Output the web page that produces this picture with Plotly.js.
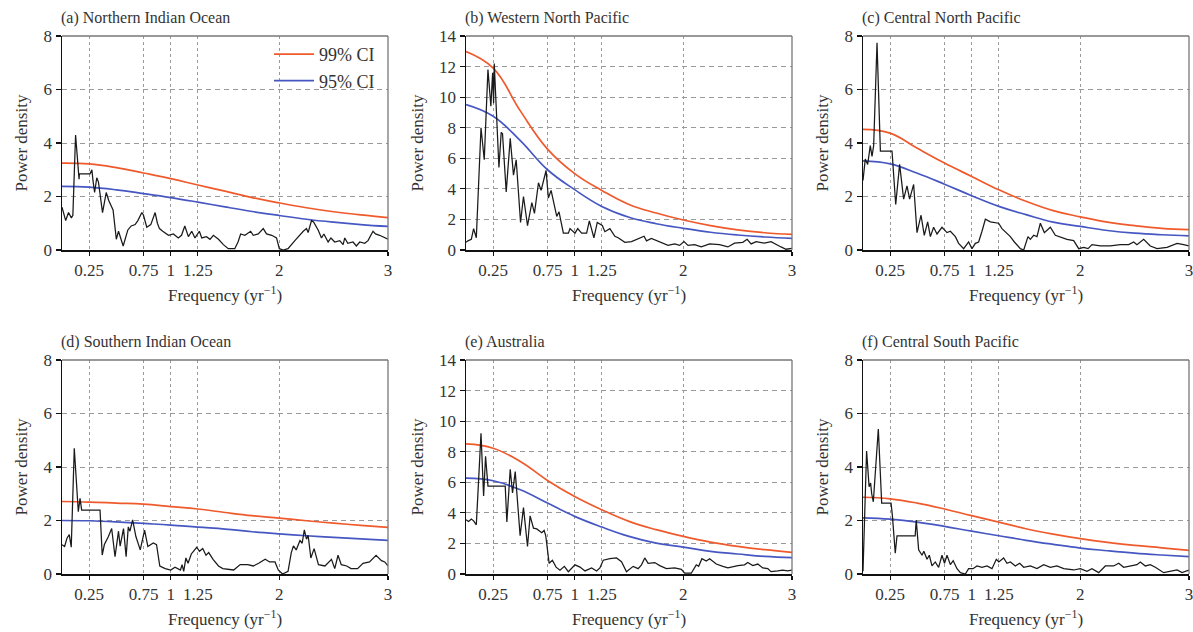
<!DOCTYPE html>
<html>
<head>
<meta charset="utf-8">
<script src="https://cdn.plot.ly/plotly-3.0.1.min.js"></script>
<style>html,body{margin:0;padding:0;background:#fff;}#chart{width:1193px;height:632px;}</style>
</head>
<body>
<div id="chart"></div>
<script>
// ---- data ----
const panelTitles = ["(a) Northern Indian Ocean", "(b) Western North Pacific", "(c) Central North Pacific",
                     "(d) Southern Indian Ocean", "(e) Australia", "(f) Central South Pacific"];
const xTickVals = [0.25, 0.75, 1, 1.25, 2, 3];
const xTickText = ["0.25", "0.75", "1", "1.25", "2", "3"];
const ciFreq = [0, 0.25, 0.5, 0.75, 1, 1.25, 1.5, 1.75, 2, 2.25, 2.5, 2.75, 3];

const freqA = [0,0.034,0.06,0.086,0.1,0.125,0.157,0.16,0.258,0.275,0.285,0.3,0.32,0.335,0.373,0.407,0.43,0.453,0.47,0.5,0.52,0.563,0.606,0.637,0.673,0.698,0.735,0.75,0.78,0.817,0.857,0.878,0.897,0.927,0.98,1.025,1.07,1.1,1.13,1.163,1.194,1.224,1.264,1.286,1.33,1.362,1.393,1.44,1.485,1.53,1.59,1.62,1.644,1.683,1.736,1.76,1.806,1.852,1.882,1.93,1.974,2.0,2.035,2.08,2.11,2.143,2.22,2.25,2.265,2.296,2.315,2.357,2.388,2.41,2.449,2.475,2.51,2.556,2.587,2.602,2.63,2.678,2.709,2.74,2.785,2.816,2.862,2.885,2.923,2.97,3.0];
const powerA = [1.6,1.1,1.4,1.2,1.3,4.3,2.65,2.85,2.85,3.0,2.6,2.15,2.7,2.55,1.4,2.15,1.85,1.65,1.5,0.4,0.7,0.15,0.75,0.9,0.95,1.1,1.4,1.3,0.85,0.95,1.4,1.0,0.8,0.7,0.55,0.6,0.45,0.55,0.9,0.5,0.7,0.45,0.7,0.45,0.5,0.4,0.55,0.4,0.2,0.05,0.05,0.3,0.6,0.55,0.7,0.55,0.6,0.8,0.6,0.55,0.45,0.05,0.0,0.05,0.2,0.35,0.7,0.8,0.65,1.1,1.05,0.75,0.45,0.6,0.3,0.45,0.3,0.35,0.2,0.45,0.25,0.3,0.15,0.3,0.25,0.35,0.7,0.6,0.55,0.45,0.4];
const ci99A = [3.25,3.22,3.08,2.88,2.67,2.43,2.2,1.96,1.76,1.58,1.43,1.31,1.21];
const ci95A = [2.38,2.35,2.25,2.11,1.96,1.79,1.61,1.44,1.29,1.15,1.04,0.95,0.88];

const freqB = [0,0.018,0.049,0.07,0.095,0.138,0.168,0.202,0.229,0.245,0.254,0.26,0.303,0.324,0.336,0.37,0.407,0.437,0.462,0.502,0.529,0.566,0.606,0.63,0.667,0.691,0.737,0.758,0.783,0.813,0.835,0.856,0.896,0.942,0.957,1.003,1.028,1.064,1.11,1.135,1.177,1.208,1.254,1.278,1.324,1.37,1.4,1.462,1.523,1.639,1.661,1.706,1.798,1.859,1.92,1.966,2.006,2.043,2.104,2.165,2.242,2.333,2.41,2.471,2.547,2.587,2.624,2.67,2.746,2.807,2.899,2.945,3.0];
const powerB = [0.5,0.6,0.7,1.4,0.8,8.0,5.9,11.8,9.4,11.6,9.6,12.2,5.4,7.7,7.6,3.8,7.3,4.9,5.9,1.8,3.5,1.6,3.1,2.4,4.4,3.9,5.2,3.4,3.9,2.8,2.2,2.5,1.1,1.1,1.4,1.1,1.4,1.1,1.1,1.9,0.8,1.8,1.6,1.2,1.4,0.9,0.8,0.5,0.55,0.9,0.6,0.75,0.45,0.3,0.4,0.3,0.55,0.3,0.35,0.2,0.4,0.35,0.2,0.45,0.5,0.7,0.4,0.55,0.45,0.55,0.2,0.05,0.1];
const ci99B = [12.98,11.9,9.1,6.6,5.0,3.9,2.98,2.42,1.96,1.6,1.32,1.13,1.02];
const ci95B = [9.51,8.75,7.15,5.25,3.95,2.85,2.14,1.72,1.42,1.16,0.98,0.85,0.76];

const freqC = [0,0.021,0.043,0.067,0.083,0.098,0.129,0.16,0.267,0.301,0.337,0.374,0.405,0.429,0.466,0.497,0.534,0.564,0.595,0.62,0.65,0.681,0.727,0.773,0.804,0.85,0.88,0.926,0.972,1.003,1.034,1.064,1.095,1.126,1.172,1.248,1.279,1.356,1.393,1.448,1.479,1.518,1.54,1.571,1.601,1.632,1.669,1.724,1.77,1.8,1.877,1.939,1.985,2.031,2.071,2.107,2.184,2.276,2.368,2.445,2.491,2.521,2.583,2.644,2.706,2.798,2.89,2.951,3.0];
const powerC = [2.6,3.4,3.2,3.9,3.5,3.9,7.75,3.7,3.7,1.7,3.2,1.9,2.4,1.9,2.45,0.65,1.3,0.55,1.05,0.5,0.85,0.6,0.85,0.65,0.7,0.5,0.25,0.05,0.3,0.05,0.25,0.3,0.7,1.15,1.05,1.0,0.8,0.5,0.3,0.05,0.0,0.5,0.4,0.55,0.5,1.0,0.65,0.85,0.55,0.5,0.4,0.35,0.05,0.1,0.05,0.2,0.15,0.15,0.2,0.2,0.3,0.2,0.4,0.15,0.05,0.1,0.25,0.2,0.15];
const ci99C = [4.51,4.37,3.8,3.25,2.75,2.25,1.82,1.47,1.24,1.04,0.91,0.81,0.76];
const ci95C = [3.33,3.22,2.87,2.46,2.03,1.63,1.32,1.04,0.88,0.73,0.63,0.57,0.53];

const freqD = [0,0.024,0.046,0.067,0.085,0.113,0.15,0.166,0.181,0.35,0.37,0.39,0.426,0.457,0.488,0.52,0.535,0.566,0.59,0.61,0.625,0.65,0.68,0.72,0.76,0.79,0.84,0.87,0.9,0.95,1.0,1.04,1.09,1.105,1.12,1.14,1.16,1.19,1.24,1.265,1.295,1.325,1.35,1.39,1.44,1.48,1.58,1.64,1.71,1.76,1.81,1.87,1.91,1.96,1.99,2.03,2.08,2.11,2.13,2.155,2.19,2.21,2.23,2.25,2.265,2.29,2.32,2.36,2.42,2.46,2.48,2.51,2.54,2.57,2.62,2.66,2.72,2.77,2.83,2.89,2.94,2.97,3.0];
const powerD = [1.09,1.03,1.34,1.47,1.0,4.7,2.33,2.83,2.39,2.39,0.71,1.1,1.39,1.7,0.65,1.6,1.04,1.7,0.65,1.76,1.6,2.02,1.4,0.9,1.64,1.03,1.16,1.1,0.3,0.2,0.15,0.25,0.15,0.35,0.1,0.6,0.4,0.75,1.0,0.85,0.95,0.7,0.8,0.55,0.3,0.2,0.15,0.35,0.35,0.3,0.4,0.55,0.45,0.45,0.15,0.0,0.1,0.8,1.05,0.9,1.25,1.15,1.65,1.3,1.45,0.6,0.95,0.35,0.3,0.45,0.55,0.2,0.7,0.35,0.3,0.2,0.2,0.4,0.45,0.7,0.5,0.45,0.3];
const ci99D = [2.71,2.69,2.65,2.61,2.52,2.43,2.3,2.18,2.09,1.99,1.9,1.82,1.74];
const ci95D = [2.0,1.99,1.95,1.89,1.83,1.75,1.68,1.58,1.5,1.43,1.37,1.31,1.26];

const freqE = [0,0.024,0.049,0.07,0.095,0.138,0.162,0.18,0.202,0.361,0.376,0.407,0.428,0.453,0.498,0.529,0.566,0.59,0.621,0.651,0.697,0.719,0.734,0.765,0.795,0.829,0.865,0.905,0.942,1.003,1.049,1.095,1.156,1.202,1.232,1.263,1.324,1.385,1.431,1.477,1.538,1.584,1.615,1.645,1.676,1.737,1.783,1.844,1.92,1.982,2.012,2.073,2.119,2.141,2.171,2.211,2.242,2.303,2.364,2.41,2.502,2.563,2.593,2.639,2.685,2.731,2.777,2.807,2.869,2.914,2.96,3.0];
const powerE = [3.55,3.44,3.6,3.48,3.22,9.2,5.1,7.7,5.75,5.75,3.4,6.85,5.3,6.7,2.5,4.35,1.8,3.8,3.0,2.95,2.7,2.85,2.5,0.7,0.9,0.45,0.25,0.5,0.15,0.6,0.45,0.2,0.4,0.2,0.4,0.9,1.0,1.05,0.8,0.15,0.5,0.35,0.6,1.05,0.7,0.75,0.55,0.35,0.4,0.3,0.05,0.05,0.6,0.5,1.0,0.85,1.0,0.65,0.5,0.4,0.55,0.6,0.75,0.55,0.65,0.4,0.35,0.15,0.2,0.25,0.2,0.25];
const ci99E = [8.51,8.23,7.36,6.12,5.07,4.2,3.44,2.9,2.46,2.09,1.81,1.59,1.42];
const ci95E = [6.27,6.1,5.51,4.64,3.77,3.07,2.46,2.02,1.76,1.48,1.31,1.15,1.07];

const freqF = [0,0.015,0.033,0.056,0.07,0.08,0.095,0.141,0.172,0.258,0.27,0.297,0.313,0.48,0.49,0.512,0.543,0.56,0.589,0.61,0.635,0.665,0.696,0.727,0.75,0.773,0.804,0.83,0.865,0.896,0.942,0.972,1.012,1.049,1.095,1.141,1.187,1.227,1.25,1.294,1.325,1.356,1.402,1.442,1.479,1.54,1.601,1.663,1.724,1.785,1.847,1.939,2.0,2.061,2.107,2.169,2.23,2.307,2.353,2.399,2.46,2.521,2.552,2.598,2.644,2.69,2.767,2.828,2.89,2.936,3.0];
const powerF = [0.1,2.5,4.6,3.26,3.4,3.0,2.7,5.42,2.65,2.65,2.2,0.78,1.43,1.43,2.02,0.9,0.7,0.85,0.55,0.7,0.3,0.45,0.25,0.7,0.4,0.7,0.35,0.5,0.2,0.05,0.0,0.2,0.2,0.3,0.25,0.3,0.2,0.55,0.45,0.6,0.4,0.45,0.3,0.4,0.25,0.3,0.2,0.35,0.25,0.3,0.2,0.15,0.2,0.1,0.2,0.05,0.3,0.3,0.4,0.25,0.3,0.35,0.45,0.3,0.35,0.25,0.05,0.1,0.15,0.05,0.15];
const ci99F = [2.87,2.81,2.65,2.43,2.18,1.94,1.69,1.49,1.32,1.18,1.07,0.98,0.88];
const ci95F = [2.1,2.05,1.94,1.78,1.6,1.43,1.26,1.11,0.97,0.87,0.78,0.71,0.65];

const yMax = [8, 14, 8, 8, 14, 8];
const yTickStep = [2, 2, 2, 2, 2, 2];

// ---- build ----
const W = 1193, H = 632;
const colPx = [[62, 388], [466, 792], [863, 1189]];
const rowPx = [[36, 250], [360, 574]];
const RED = '#ef5a2c', BLUE = '#4657c2';
const FONT = '"Liberation Serif", "Times New Roman", serif';
const TXT = '#333';

const panels = [
  [freqA, powerA, ci99A, ci95A], [freqB, powerB, ci99B, ci95B], [freqC, powerC, ci99C, ci95C],
  [freqD, powerD, ci99D, ci95D], [freqE, powerE, ci99E, ci95E], [freqF, powerF, ci99F, ci95F]
];

const traces = [];
const layout = {
  width: W, height: H, margin: {l: 0, r: 0, t: 0, b: 0},
  paper_bgcolor: '#fff', plot_bgcolor: '#fff',
  font: {family: FONT, size: 17, color: TXT},
  showlegend: true,
  legend: {x: 380 / W, xanchor: 'right', y: 1 - 36 / H, yanchor: 'top', bgcolor: 'rgba(0,0,0,0)',
           font: {family: FONT, size: 18, color: TXT}, tracegroupgap: 0, itemwidth: 40},
  annotations: [], shapes: []
};

panels.forEach((p, i) => {
  const [fx, py, c99, c95] = p;
  const n = Math.min(fx.length, py.length);
  const sfx = i === 0 ? '' : String(i + 1);
  const xa = 'x' + sfx, ya = 'y' + sfx;
  const col = colPx[i % 3], row = rowPx[Math.floor(i / 3)];
  traces.push({x: ciFreq, y: c99, xaxis: xa, yaxis: ya, type: 'scatter', mode: 'lines',
    line: {color: RED, width: 1.7, shape: 'spline', smoothing: 1.2}, name: '99% CI', showlegend: i === 0, hoverinfo: 'skip'});
  traces.push({x: ciFreq, y: c95, xaxis: xa, yaxis: ya, type: 'scatter', mode: 'lines',
    line: {color: BLUE, width: 1.7, shape: 'spline', smoothing: 1.2}, name: '95% CI', showlegend: i === 0, hoverinfo: 'skip'});
  traces.push({x: fx.slice(0, n), y: py.slice(0, n), xaxis: xa, yaxis: ya, type: 'scatter', mode: 'lines',
    line: {color: '#1a1a1a', width: 1.25}, name: 'spectrum', showlegend: false, hoverinfo: 'skip'});

  const yt = [];
  for (let v = 0; v <= yMax[i]; v += yTickStep[i]) yt.push(v);
  layout['xaxis' + sfx] = {
    domain: [col[0] / W, col[1] / W], anchor: ya, range: [0, 3],
    tickmode: 'array', tickvals: xTickVals, ticktext: xTickText, ticklabeloverflow: 'allow',
    showgrid: true, gridcolor: '#9a9a9a', gridwidth: 1, griddash: '3px,3px',
    zeroline: false, showline: true, linecolor: '#111', linewidth: 1.5, mirror: false,
    ticks: 'outside', ticklen: 4, tickcolor: '#111', tickwidth: 1.2,
    tickfont: {family: FONT, size: 17, color: TXT},
    title: {text: 'Frequency (yr<sup>\u22121</sup>)', font: {family: FONT, size: 17, color: TXT}, standoff: 10},
    fixedrange: true
  };
  layout['yaxis' + sfx] = {
    domain: [1 - row[1] / H, 1 - row[0] / H], anchor: xa, range: [0, yMax[i]],
    tickmode: 'array', tickvals: yt,
    showgrid: true, gridcolor: '#9a9a9a', gridwidth: 1, griddash: '5px,4px',
    zeroline: false, showline: true, linecolor: '#111', linewidth: 1.5, mirror: false,
    ticks: 'outside', ticklen: 5, tickcolor: '#111', tickwidth: 1.2,
    tickfont: {family: FONT, size: 17, color: TXT},
    title: {text: 'Power density', font: {family: FONT, size: 17, color: TXT}, standoff: 11},
    fixedrange: true
  };
  layout.shapes.push({type: 'line', xref: xa + ' domain', yref: ya + ' domain', x0: 0, x1: 1, y0: 1, y1: 1,
    line: {color: '#777', width: 1.3}});
  layout.shapes.push({type: 'line', xref: xa + ' domain', yref: ya + ' domain', x0: 1, x1: 1, y0: 0, y1: 1,
    line: {color: '#777', width: 1.3}});
  layout.annotations.push({text: panelTitles[i], xref: 'paper', yref: 'paper',
    x: (col[0] - 3) / W, xanchor: 'left', y: 1 - (row[0] - 7) / H, yanchor: 'bottom', showarrow: false,
    font: {family: FONT, size: 16, color: TXT}});
});

Plotly.newPlot('chart', traces, layout, {staticPlot: true, displayModeBar: false});
</script>
</body>
</html>
